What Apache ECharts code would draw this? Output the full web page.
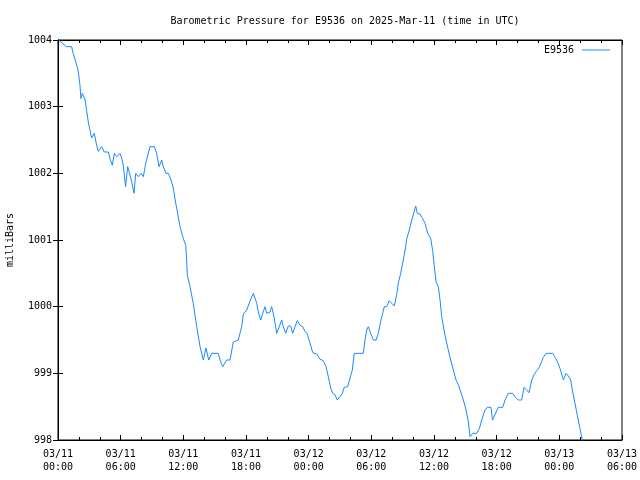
<!DOCTYPE html>
<html><head><meta charset="utf-8">
<script src="https://cdn.jsdelivr.net/npm/echarts@6/dist/echarts.min.js"></script>
<style>html,body{margin:0;padding:0;background:#fff}#c{width:640px;height:480px}</style>
</head><body><div id="c"></div>
<script>
// hours since 03/11 00:00 UTC
var hours = [0.05,0.8,1.3,1.45,1.8,1.95,2.1,2.2,2.33,2.43,2.6,2.75,2.9,3.06,3.22,3.47,3.7,3.86,4.18,4.43,4.82,4.98,5.2,5.4,5.62,5.94,6.1,6.25,6.4,6.47,6.67,6.8,7.05,7.28,7.44,7.69,7.95,8.17,8.4,8.81,9.22,9.45,9.67,9.93,10.08,10.34,10.56,10.82,11.04,11.25,11.4,11.68,12.0,12.23,12.32,12.38,12.64,12.95,13.28,13.6,13.91,14.17,14.3,14.43,14.72,15.35,15.51,15.77,15.92,16.15,16.47,16.78,17.26,17.59,17.74,18.07,18.38,18.7,19.03,19.18,19.41,19.6,19.82,19.98,20.3,20.46,20.68,20.94,21.09,21.42,21.57,21.8,22.05,22.28,22.47,22.69,22.91,23.17,23.43,23.65,23.87,24.13,24.39,24.77,25.09,25.4,25.66,25.88,26.11,26.3,26.52,26.74,27.0,27.22,27.41,27.74,27.96,28.18,28.37,29.23,29.39,29.56,29.71,29.94,30.19,30.45,30.67,30.9,31.09,31.24,31.47,31.72,31.95,32.2,32.43,32.58,32.81,33.06,33.29,33.39,33.64,33.87,34.09,34.25,34.4,34.66,34.92,35.14,35.4,35.69,35.88,36.03,36.19,36.41,36.58,36.74,36.96,37.15,37.37,37.6,37.85,38.11,38.33,38.56,38.81,39.07,39.29,39.45,39.52,39.71,40.09,40.34,40.57,40.88,41.1,41.46,41.6,41.84,42.16,42.58,42.8,43.12,43.54,43.76,44.07,44.4,44.62,44.88,45.1,45.36,45.58,45.84,46.08,46.31,46.47,46.73,47.37,47.59,47.81,48.07,48.39,48.64,48.86,49.09,49.28,49.5,49.72,49.98,50.2,50.46];
var pressure = [1004.0,1003.9,1003.9,1003.8,1003.62,1003.52,1003.33,1003.12,1003.2,1003.22,1003.1,1002.93,1002.77,1002.65,1002.53,1002.6,1002.42,1002.33,1002.4,1002.32,1002.32,1002.22,1002.12,1002.3,1002.25,1002.3,1002.23,1002.12,1001.9,1001.8,1002.1,1002.03,1001.88,1001.7,1002.0,1001.95,1002.0,1001.95,1002.15,1002.4,1002.4,1002.3,1002.1,1002.2,1002.1,1002.0,1002.0,1001.9,1001.78,1001.57,1001.45,1001.2,1001.02,1000.92,1000.7,1000.48,1000.3,1000.05,999.7,999.4,999.2,999.38,999.4,999.2,999.3,999.3,999.2,999.1,999.1,999.2,999.2,999.47,999.5,999.7,999.89,999.95,1000.08,1000.2,1000.05,999.92,999.8,999.9,1000.0,999.9,999.92,1000.0,999.85,999.6,999.6,999.8,999.7,999.6,999.71,999.71,999.6,999.7,999.79,999.72,999.7,999.63,999.59,999.45,999.31,999.29,999.21,999.19,999.1,998.95,998.78,998.7,998.68,998.6,998.65,998.7,998.79,998.8,998.93,999.05,999.3,999.3,999.5,999.65,999.7,999.6,999.5,999.5,999.6,999.78,999.9,1000.0,1000.0,1000.09,1000.05,1000.01,1000.18,1000.35,1000.5,1000.7,1000.9,1001.02,1001.15,1001.3,1001.42,1001.51,1001.4,1001.39,1001.32,1001.25,1001.1,1001.02,1000.83,1000.6,1000.38,1000.3,1000.1,999.85,999.65,999.5,999.35,999.2,999.05,998.9,998.83,998.72,998.6,998.45,998.27,998.05,998.02,998.1,998.1,998.17,998.3,998.45,998.49,998.49,998.3,998.38,998.49,998.49,998.6,998.7,998.7,998.65,998.6,998.6,998.79,998.75,998.71,998.9,998.98,999.04,999.09,999.18,999.24,999.3,999.3,999.24,999.18,999.07,998.9,999.0,998.96,998.9,998.72,998.55,998.37,998.17,998.0,997.85];
var xTickLabels = ['03/11\n00:00','03/11\n06:00','03/11\n12:00','03/11\n18:00','03/12\n00:00','03/12\n06:00','03/12\n12:00','03/12\n18:00','03/13\n00:00','03/13\n06:00'];
var yTickLabels = ['998','999','1000','1001','1002','1003','1004'];

var FONT = 'DejaVu Sans Mono';
var data = hours.map(function(h,i){return [h, pressure[i]];});
var chart = echarts.init(document.getElementById('c'), null, {renderer:'canvas'});
var xCommon = {
  type:'value', min:0, max:54, interval:6,
  axisLine:{show:true, lineStyle:{color:'#000', width:1}},
  axisTick:{show:true, inside:true, length:5, lineStyle:{color:'#000'}},
  minorTick:{show:true, splitNumber:3, length:3, lineStyle:{color:'#000'}},
  splitLine:{show:false}, minorSplitLine:{show:false}
};
var yCommon = {
  type:'value', min:998, max:1004, interval:1,
  axisLine:{show:true, lineStyle:{color:'#000', width:1}},
  axisTick:{show:true, inside:true, length:5, lineStyle:{color:'#000'}},
  splitLine:{show:false}
};
chart.setOption({
  animation:false,
  backgroundColor:'#fff',
  title:{text:'Barometric Pressure for E9536 on 2025-Mar-11 (time in UTC)', left:340, textAlign:'center', top:11,
    textStyle:{fontFamily:FONT, fontSize:10, fontWeight:'normal', color:'#000'}},
  legend:{right:30, top:45, padding:0, align:'right', itemWidth:28, itemHeight:1, itemGap:0,
    icon:'rect', textStyle:{fontFamily:FONT, fontSize:10, color:'#000', padding:[0,3,0,0]},
    data:[{name:'E9536'}]},
  grid:{left:58, right:18, top:40, bottom:40, show:true, borderColor:'#000', borderWidth:1, containLabel:false, outerBoundsMode:'none'},
  xAxis:[
    Object.assign({}, xCommon, {position:'bottom',
      axisLabel:{show:true, margin:8, fontFamily:FONT, fontSize:10, color:'#000', lineHeight:13,
        formatter:function(v){var i=Math.round(v/6); return xTickLabels[i]||'';}}}),
    Object.assign({}, xCommon, {position:'top', axisLabel:{show:false}})
  ],
  yAxis:[
    Object.assign({}, yCommon, {position:'left', name:'milliBars', nameLocation:'middle', nameGap:43,
      nameTextStyle:{fontFamily:FONT, fontSize:10, color:'#000'},
      axisLabel:{show:true, margin:6, fontFamily:FONT, fontSize:10, color:'#000',
        formatter:function(v){var i=Math.round(v-998); return yTickLabels[i]||'';}}}),
    Object.assign({}, yCommon, {position:'right', axisLabel:{show:false}})
  ],
  series:[{
    name:'E9536', type:'line', data:data, xAxisIndex:0, yAxisIndex:0,
    showSymbol:false, symbol:'none', clip:true,
    lineStyle:{color:'#1a88ff', width:1}, itemStyle:{color:'#1a88ff'}
  }]
});
</script></body></html>
